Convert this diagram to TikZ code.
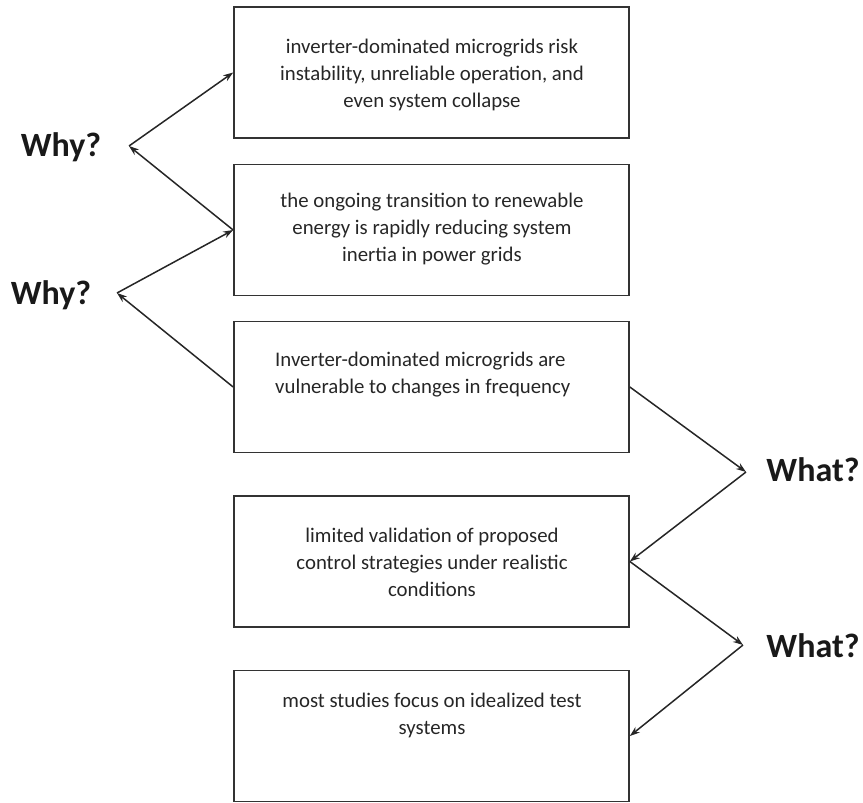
\documentclass[tikz,border=0pt]{standalone}
\usepackage{fontspec}
\setmainfont{Carlito}
\usetikzlibrary{arrows.meta}
\begin{document}
\begin{tikzpicture}[x=1pt,y=-1pt,
  box/.style={draw=black!80,line width=1.7pt,minimum width=395pt,minimum height=131pt,inner sep=0pt},
  txt/.style={font=\fontsize{20.8}{27}\selectfont,text=black!85,align=center,inner sep=0pt},
  lbl/.style={font=\fontsize{34}{36}\selectfont\bfseries,text=black!90,inner sep=0pt},
  arr/.style={draw=black!85,line width=1.5pt,-{Stealth[length=10pt,width=7pt]}}]
\useasboundingbox (0,0) rectangle (863,803);
\node[box] (b1) at (431.5,72.5) {};
\node[box] (b2) at (431.5,230) {};
\node[box] (b3) at (431.5,387) {};
\node[box] (b4) at (431.5,561.5) {};
\node[box] (b5) at (431.5,736) {};
\node[txt] (t1) at (432,74.5) {inverter-dominated microgrids risk\\instability, unreliable operation, and\\even system collapse};
\node[txt] (t2) at (432,229.5) {the ongoing transition to renewable\\energy is rapidly reducing system\\inertia in power grids};
\node[txt,align=left,anchor=west] (t3) at (275,375) {Inverter-dominated microgrids are\\vulnerable to changes in frequency};
\node[txt] (t4) at (432,562.5) {limited validation of proposed\\control strategies under realistic\\conditions};
\node[txt] (t5) at (432,715) {most studies focus on idealized test\\systems};
\coordinate (a1) at (129,146);
\coordinate (a2) at (117,293);
\coordinate (w1) at (746,472);
\coordinate (w2) at (743,645);
\node[lbl] (why1) at (61,147) {Why?};
\node[lbl] (why2) at (51,295) {Why?};
\node[lbl] (what1) at (813,470) {What?};
\node[lbl] (what2) at (813,646) {What?};
\draw[arr] (a1) -- (b1.west);
\draw[arr] (b2.west) -- (a1);
\draw[arr] (a2) -- (b2.west);
\draw[arr] (b3.west) -- (a2);
\draw[arr] (b3.east) -- (w1);
\draw[arr] (w1) -- (b4.east);
\draw[arr] (b4.east) -- (w2);
\draw[arr] (w2) -- (b5.east);
\end{tikzpicture}
\end{document}
